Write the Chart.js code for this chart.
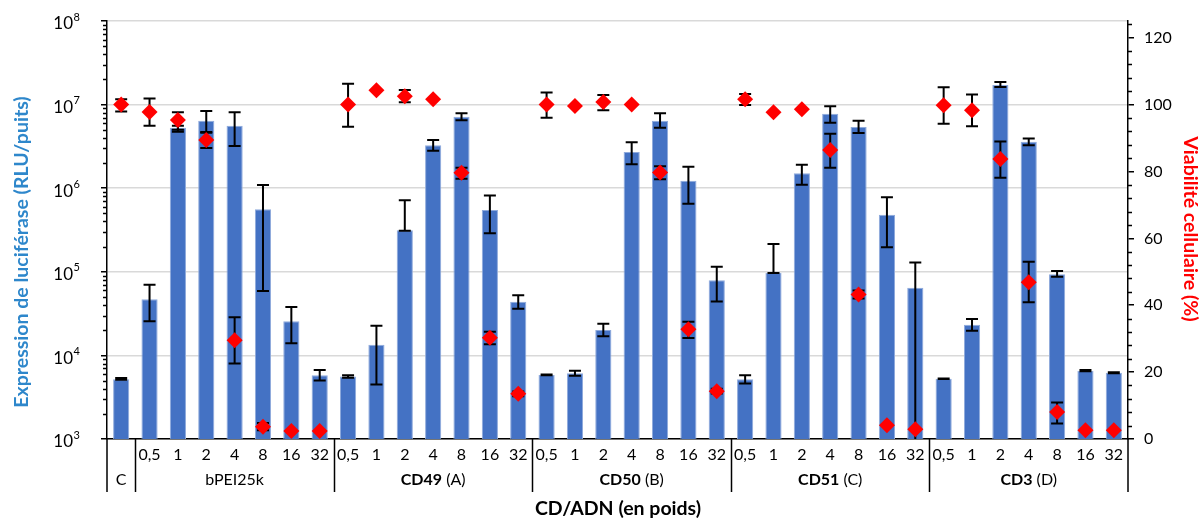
<!DOCTYPE html>
<html><head><meta charset="utf-8">
<script src="https://cdn.jsdelivr.net/npm/chart.js@4.4.1/dist/chart.umd.min.js"></script>
<style>html,body{margin:0;padding:0;background:#fff;}</style>
</head><body>
<canvas id="c" width="1200" height="521"></canvas>
<script>
// ---------- DATA ----------
const tickLabels = ['',
  '0,5','1','2','4','8','16','32',
  '0,5','1','2','4','8','16','32',
  '0,5','1','2','4','8','16','32',
  '0,5','1','2','4','8','16','32',
  '0,5','1','2','4','8','16','32'];
const groupNames  = ['C','bPEI25k','CD49','CD50','CD51','CD3'];
const groupSuffix = ['','','(A)','(B)','(C)','(D)'];
const groupBold   = [false,false,true,true,true,true];
const groupSizes  = [1,7,7,7,7,7];

const luciferase = [5200,
  47000, 5.3e6, 6.4e6, 5.6e6, 5.6e5, 25600, 5800,
  5600, 13400, 3.13e5, 3.26e6, 7.16e6, 5.48e5, 43800,
  5840, 6100, 20100, 2.71e6, 6.4e6, 1.23e6, 79000,
  5200, 97500, 1.51e6, 7.78e6, 5.4e6, 4.82e5, 64600,
  5260, 23300, 1.71e7, 3.6e6, 93300, 6560, 6200];
const lucLow = [5100,
  25600, 5.0e6, 4.6e6, 3.2e6, 5.9e4, 1.4e4, 5000,
  5400, 4500, 3.1e5, 2.81e6, 6.5e6, 2.9e5, 36200,
  5800, 5700, 16900, 1.93e6, 5.3e6, 6.5e5, 44000,
  4600, 96500, 1.10e6, 6.08e6, 4.57e6, 1.96e5, 300,
  5230, 19700, 1.62e7, 3.26e6, 87000, 6450, 6120];
const lucHigh = [5350,
  70000, 5.6e6, 8.4e6, 8.1e6, 1.09e6, 38000, 6700,
  5800, 22600, 7.2e5, 3.78e6, 7.9e6, 8.2e5, 52400,
  5900, 6560, 23900, 3.54e6, 7.9e6, 1.81e6, 1.15e5,
  5800, 2.15e5, 1.91e6, 9.55e6, 6.4e6, 7.8e5, 1.29e5,
  5300, 27200, 1.86e7, 3.94e6, 1.02e5, 6700, 6300];

const viability = [100,
  97.8, 95.4, 89.4, 29.5, 3.7, 2.4, 2.4,
  100, 104.3, 102.5, 101.6, 79.6, 30.3, 13.5,
  100, 99.6, 100.8, 100, 79.7, 32.8, 14.3,
  101.6, 97.7, 98.6, 86.4, 43.2, 4.1, 2.9,
  99.8, 98.3, 83.7, 46.9, 8.1, 2.6, 2.6];
const viabLow = [97.9,
  93.7, 91.9, 87.0, 22.6, 2.6, null, null,
  93.4, null, 100.7, null, 77.8, 28.3, 12.8,
  96.1, null, 98.3, null, 77.7, 30.2, 13.6,
  99.9, null, null, 81.1, 42.0, null, null,
  94.3, 93.5, 78.1, 40.9, 4.6, null, null];
const viabHigh = [101.6,
  101.8, 97.7, 91.8, 36.4, 4.8, null, null,
  106.2, null, 104.4, null, 81.1, 32.1, 14.2,
  103.6, null, 102.9, null, 81.6, 35.1, 15.0,
  103.2, null, null, 91.3, 44.4, null, null,
  105.2, 103.0, 89.0, 53.0, 10.9, null, null];

const leftExponents = [3,4,5,6,7,8];
const rightTicks = [0,20,40,60,80,100,120];
const rightMinorStep = 4;

// ---------- STYLE ----------
const FAM = 'Lato, "Liberation Sans", sans-serif';
const BLUE_TITLE = '#2E87CB';

const decorPlugin = {
  id: 'decor',
  afterDatasetDraw(chart, args) {
    if (args.index !== 0) return;
    const {ctx, chartArea: ca, scales} = chart;
    const xs = scales.x, y = scales.y, y1 = scales.y1;
    ctx.save();
    ctx.beginPath(); ctx.rect(ca.left, ca.top, ca.right - ca.left, ca.bottom - ca.top); ctx.clip();
    ctx.strokeStyle = '#000'; ctx.lineWidth = 2;
    const cap = 6;
    const drawErr = (x, pLo, pHi) => {
      ctx.beginPath();
      ctx.moveTo(x, pLo); ctx.lineTo(x, pHi);
      ctx.moveTo(x - cap, pLo); ctx.lineTo(x + cap, pLo);
      ctx.moveTo(x - cap, pHi); ctx.lineTo(x + cap, pHi);
      ctx.stroke();
    };
    for (let i = 0; i < tickLabels.length; i++) {
      const x = xs.getPixelForValue(i);
      if (lucLow[i] != null) drawErr(x, y.getPixelForValue(lucLow[i]), y.getPixelForValue(lucHigh[i]));
      if (viabLow[i] != null) drawErr(x, y1.getPixelForValue(viabLow[i]), y1.getPixelForValue(viabHigh[i]));
    }
    ctx.restore();
  },
  afterDraw(chart) {
    const {ctx, chartArea: ca, scales} = chart;
    const xs = scales.x, y = scales.y, y1 = scales.y1;
    ctx.save();
    ctx.strokeStyle = '#000'; ctx.fillStyle = '#000';
    // left minor ticks
    ctx.lineWidth = 1.5;
    ctx.beginPath();
    for (let e = 3; e < 8; e++) {
      for (let k = 2; k <= 9; k++) {
        const py = Math.round(y.getPixelForValue(k * Math.pow(10, e))) + 0.5;
        ctx.moveTo(ca.left - 4, py); ctx.lineTo(ca.left, py);
      }
    }
    // right minor ticks
    for (let v = rightMinorStep; v <= 124; v += rightMinorStep) {
      if (v % 20 === 0) continue;
      const py = Math.round(y1.getPixelForValue(v)) + 0.5;
      ctx.moveTo(ca.right, py); ctx.lineTo(ca.right + 4, py);
    }
    ctx.stroke();
    // left tick labels 10^n
    for (const e of leftExponents) {
      const py = y.getPixelForValue(Math.pow(10, e));
      ctx.font = '17px ' + FAM; ctx.textAlign = 'right'; ctx.textBaseline = 'middle';
      ctx.fillText('10', 73, py + 3);
      ctx.font = '11px ' + FAM; ctx.textAlign = 'left';
      ctx.fillText(String(e), 73.5, py - 4);
    }
    // axis extensions + separators
    const bottom = 492;
    ctx.lineWidth = 1.5;
    ctx.beginPath();
    ctx.moveTo(ca.left, ca.bottom); ctx.lineTo(ca.left, bottom);
    ctx.moveTo(ca.right, ca.bottom); ctx.lineTo(ca.right, bottom);
    let idx = 0;
    const half = (xs.getPixelForValue(1) - xs.getPixelForValue(0)) / 2;
    const groupCenters = [];
    for (let g = 0; g < groupSizes.length; g++) {
      const first = idx, last = idx + groupSizes[g] - 1;
      const xl = xs.getPixelForValue(first) - half, xr = xs.getPixelForValue(last) + half;
      groupCenters.push((xl + xr) / 2);
      if (g < groupSizes.length - 1) { const sx = Math.round(xr) + 0.5; ctx.moveTo(sx, ca.bottom); ctx.lineTo(sx, bottom); }
      idx += groupSizes[g];
    }
    ctx.stroke();
    // group labels
    ctx.textBaseline = 'middle'; ctx.textAlign = 'left';
    for (let g = 0; g < groupNames.length; g++) {
      const boldF = (groupBold[g] ? 'bold ' : '') + '16px ' + FAM;
      const regF = '16px ' + FAM;
      ctx.font = boldF; const w1 = ctx.measureText(groupNames[g]).width;
      let w2 = 0, sp = 0;
      if (groupSuffix[g]) { ctx.font = regF; sp = ctx.measureText(' ').width; w2 = ctx.measureText(groupSuffix[g]).width; }
      const x0 = groupCenters[g] - (w1 + sp + w2) / 2;
      ctx.font = boldF; ctx.fillText(groupNames[g], x0, 480);
      if (groupSuffix[g]) { ctx.font = regF; ctx.fillText(groupSuffix[g], x0 + w1 + sp, 480); }
    }
    // titles
    ctx.textAlign = 'center'; ctx.textBaseline = 'middle';
    ctx.font = 'bold 19.5px ' + FAM;
    ctx.fillText('CD/ADN (en poids)', 618, 509);
    ctx.save();
    ctx.translate(22, 252); ctx.rotate(-Math.PI / 2);
    ctx.fillStyle = BLUE_TITLE; ctx.fillText('Expression de luciférase (RLU/puits)', 0, 0);
    ctx.restore();
    ctx.save();
    ctx.translate(1190, 229); ctx.rotate(Math.PI / 2);
    ctx.fillStyle = '#FF0000'; ctx.fillText('Viabilité cellulaire (%)', 0, 0);
    ctx.restore();
    ctx.restore();
  }
};

new Chart(document.getElementById('c'), {
  type: 'bar',
  data: {
    labels: tickLabels,
    datasets: [
      { type: 'bar', label: 'Expression de luciférase', data: luciferase, yAxisID: 'y',
        backgroundColor: '#4472C4', borderColor: '#8FAADC', borderWidth: 1,
        barPercentage: 0.57, categoryPercentage: 1, order: 2 },
      { type: 'line', label: 'Viabilité cellulaire', data: viability, yAxisID: 'y1', showLine: false,
        pointStyle: 'rectRot', pointRadius: 8, pointHoverRadius: 8,
        pointBackgroundColor: '#FF0000', pointBorderColor: '#FF0000', pointBorderWidth: 0, order: 1 }
    ]
  },
  options: {
    responsive: false, animation: false,
    layout: { padding: { top: 21, left: 0, right: 0, bottom: 0 } },
    plugins: { legend: { display: false }, tooltip: { enabled: false } },
    scales: {
      x: {
        type: 'category', offset: true,
        grid: { display: false, drawTicks: false },
        border: { display: true, color: '#000', width: 1.5 },
        ticks: { font: { family: FAM, size: 16 }, color: '#000', padding: 6, maxRotation: 0, autoSkip: false },
        afterFit(s) { s.height = 82; }
      },
      y: {
        type: 'logarithmic', position: 'left', min: 1000, max: 1e8,
        afterBuildTicks(s) { s.ticks = leftExponents.map(e => ({ value: Math.pow(10, e) })); },
        grid: { color: '#D9D9D9', lineWidth: 1.5, tickColor: '#000', tickLength: 6, tickWidth: 1.5 },
        border: { color: '#000', width: 1.5 },
        ticks: { display: false },
        afterFit(s) { s.width = 107; }
      },
      y1: {
        type: 'linear', position: 'right', min: 0, max: 125,
        afterBuildTicks(s) { s.ticks = rightTicks.map(v => ({ value: v })); },
        grid: { drawOnChartArea: false, color: '#000', tickLength: 6, lineWidth: 1.5 },
        border: { color: '#000', width: 1.5 },
        ticks: { font: { family: FAM, size: 16 }, color: '#000', padding: 10 },
        afterFit(s) { s.width = 72; }
      }
    }
  },
  plugins: [decorPlugin]
});
</script>
</body></html>
